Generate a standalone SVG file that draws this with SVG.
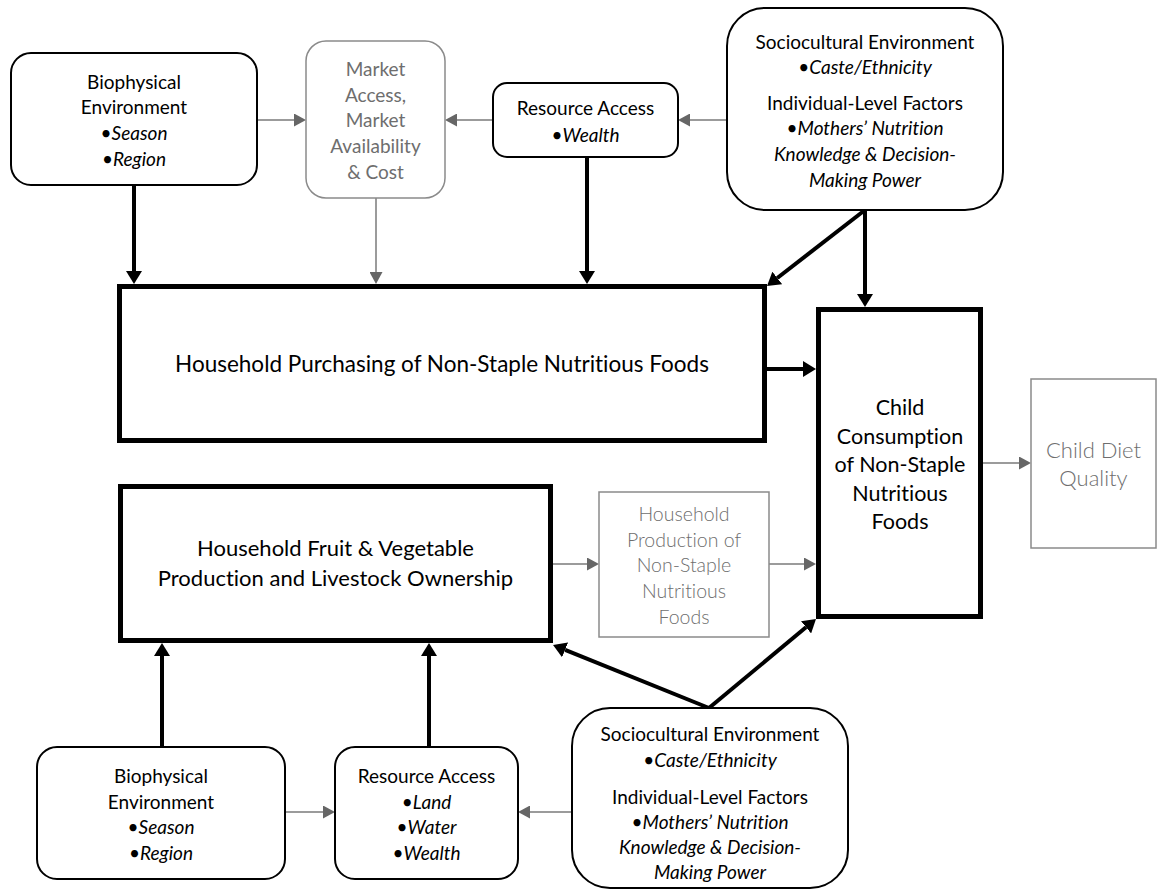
<svg xmlns="http://www.w3.org/2000/svg" width="1157" height="890" viewBox="0 0 1157 890">
<style>
text{font-family:Lato,"Liberation Sans",sans-serif;text-anchor:middle;fill:#000;font-variant-ligatures:none;font-feature-settings:"liga" 0,"clig" 0}
.s{font-size:19px}
.g{fill:#6e6e6e}
.i{font-style:italic}
.rb{fill:#fff;stroke:#000;stroke-width:2}
.gb{fill:#fff;stroke:#8a8a8a;stroke-width:1.5}
.tb{fill:#fff;stroke:#000;stroke-width:5}
.thick{stroke:#000;stroke-width:4;fill:none}
.thin{stroke:#7a7a7a;stroke-width:1.5;fill:none}
.big{font-size:23px;font-weight:300}
.mid{font-size:19.5px;font-weight:300}
.ch{font-size:21.5px}
</style>
<defs>
<marker id="hk" markerUnits="userSpaceOnUse" markerWidth="13" markerHeight="16" viewBox="0 0 13 16" refX="0" refY="8" orient="auto"><path d="M0,0 L13,8 L0,16 Z" fill="#000"/></marker>
<marker id="hg" markerUnits="userSpaceOnUse" markerWidth="12" markerHeight="13" viewBox="0 0 12 13" refX="0" refY="6.5" orient="auto"><path d="M0,0 L12,6.5 L0,13 Z" fill="#666"/></marker>
</defs>
<rect width="1157" height="890" fill="#fff"/>
<g id="connectors">
<path class="thin" d="M257,120 H294" marker-end="url(#hg)"/>
<path class="thin" d="M493,120 H457" marker-end="url(#hg)"/>
<path class="thin" d="M727,120 H690" marker-end="url(#hg)"/>
<path class="thick" d="M134,185 V271" marker-end="url(#hk)"/>
<path class="thin" d="M376,198 V272" marker-end="url(#hg)"/>
<path class="thick" d="M587,157 V271" marker-end="url(#hk)"/>
<path class="thick" d="M865,210 L777.3,278" marker-end="url(#hk)"/>
<path class="thick" d="M865,210 V294" marker-end="url(#hk)"/>
<path class="thick" d="M767,369 H803" marker-end="url(#hk)"/>
<path class="thin" d="M983,463 H1019" marker-end="url(#hg)"/>
<path class="thin" d="M553,564 H587" marker-end="url(#hg)"/>
<path class="thin" d="M769,564 H804" marker-end="url(#hg)"/>
<path class="thick" d="M709,708 L565.1,649.9" marker-end="url(#hk)"/>
<path class="thick" d="M709,708 L806,627.3" marker-end="url(#hk)"/>
<path class="thick" d="M162,747 V656" marker-end="url(#hk)"/>
<path class="thick" d="M429,747 V656" marker-end="url(#hk)"/>
<path class="thin" d="M285,812 H323" marker-end="url(#hg)"/>
<path class="thin" d="M572,812 H530" marker-end="url(#hg)"/>
</g>
<g id="bio-top">
<rect class="rb" x="11" y="53" width="246" height="132" rx="20"/>
<text class="s" x="134" y="89">Biophysical</text>
<text class="s" x="134" y="114">Environment</text>
<text class="s" x="134" y="140">•<tspan class="i">Season</tspan></text>
<text class="s" x="134" y="166">•<tspan class="i">Region</tspan></text>
</g>
<g id="market">
<rect class="gb" x="306" y="41" width="139" height="157" rx="20"/>
<text class="s g" x="375.5" y="76">Market</text>
<text class="s g" x="375.5" y="102">Access,</text>
<text class="s g" x="375.5" y="127">Market</text>
<text class="s g" x="375.5" y="153">Availability</text>
<text class="s g" x="375.5" y="179">&amp; Cost</text>
</g>
<g id="resource-top">
<rect class="rb" x="493" y="83" width="185" height="74" rx="14"/>
<text class="s" x="585.5" y="115">Resource Access</text>
<text class="s" x="585.5" y="142">•<tspan class="i">Wealth</tspan></text>
</g>
<g id="socio-top">
<rect class="rb" x="727" y="8" width="276" height="202" rx="38"/>
<text class="s" x="865" y="49">Sociocultural Environment</text>
<text class="s" x="865" y="74">•<tspan class="i">Caste/Ethnicity</tspan></text>
<text class="s" x="865" y="110">Individual-Level Factors</text>
<text class="s" x="865" y="135">•<tspan class="i">Mothers’ Nutrition</tspan></text>
<text class="s i" x="865" y="161">Knowledge &amp; Decision-</text>
<text class="s i" x="865" y="187">Making Power</text>
</g>
<g id="purchasing">
<rect class="tb" x="119.5" y="286.5" width="645" height="154"/>
<text style="font-size:22.5px" x="442" y="372">Household Purchasing of Non-Staple Nutritious Foods</text>
</g>
<g id="child">
<rect class="tb" x="818.5" y="309.5" width="162" height="307"/>
<text class="ch" x="900" y="415">Child</text>
<text class="ch" x="900" y="444">Consumption</text>
<text class="ch" x="900" y="472">of Non-Staple</text>
<text class="ch" x="900" y="501">Nutritious</text>
<text class="ch" x="900" y="529">Foods</text>
</g>
<g id="diet">
<rect class="gb" x="1031" y="379" width="125" height="169"/>
<text class="big g" style="font-size:22px" x="1093.5" y="458">Child Diet</text>
<text class="big g" style="font-size:22px" x="1093.5" y="486">Quality</text>
</g>
<g id="fruit">
<rect class="tb" x="120.5" y="486.5" width="430" height="154"/>
<text style="font-size:22px" x="335.5" y="556">Household Fruit &amp; Vegetable</text>
<text style="font-size:22px" x="335.5" y="586">Production and Livestock Ownership</text>
</g>
<g id="production">
<rect class="gb" x="599" y="492" width="170" height="145"/>
<text class="mid g" x="684" y="521">Household</text>
<text class="mid g" x="684" y="547">Production of</text>
<text class="mid g" x="684" y="572">Non-Staple</text>
<text class="mid g" x="684" y="598">Nutritious</text>
<text class="mid g" x="684" y="624">Foods</text>
</g>
<g id="bio-bottom">
<rect class="rb" x="37" y="747" width="248" height="132" rx="20"/>
<text class="s" x="161" y="783">Biophysical</text>
<text class="s" x="161" y="809">Environment</text>
<text class="s" x="161" y="834">•<tspan class="i">Season</tspan></text>
<text class="s" x="161" y="860">•<tspan class="i">Region</tspan></text>
</g>
<g id="resource-bottom">
<rect class="rb" x="335" y="747" width="183" height="132" rx="20"/>
<text class="s" x="426.5" y="783">Resource Access</text>
<text class="s" x="426.5" y="809">•<tspan class="i">Land</tspan></text>
<text class="s" x="426.5" y="834">•<tspan class="i">Water</tspan></text>
<text class="s" x="426.5" y="860">•<tspan class="i">Wealth</tspan></text>
</g>
<g id="socio-bottom">
<rect class="rb" x="572" y="708" width="276" height="180" rx="38"/>
<text class="s" x="710" y="741">Sociocultural Environment</text>
<text class="s" x="710" y="767">•<tspan class="i">Caste/Ethnicity</tspan></text>
<text class="s" x="710" y="804">Individual-Level Factors</text>
<text class="s" x="710" y="829">•<tspan class="i">Mothers’ Nutrition</tspan></text>
<text class="s i" x="710" y="854">Knowledge &amp; Decision-</text>
<text class="s i" x="710" y="879">Making Power</text>
</g>
</svg>
